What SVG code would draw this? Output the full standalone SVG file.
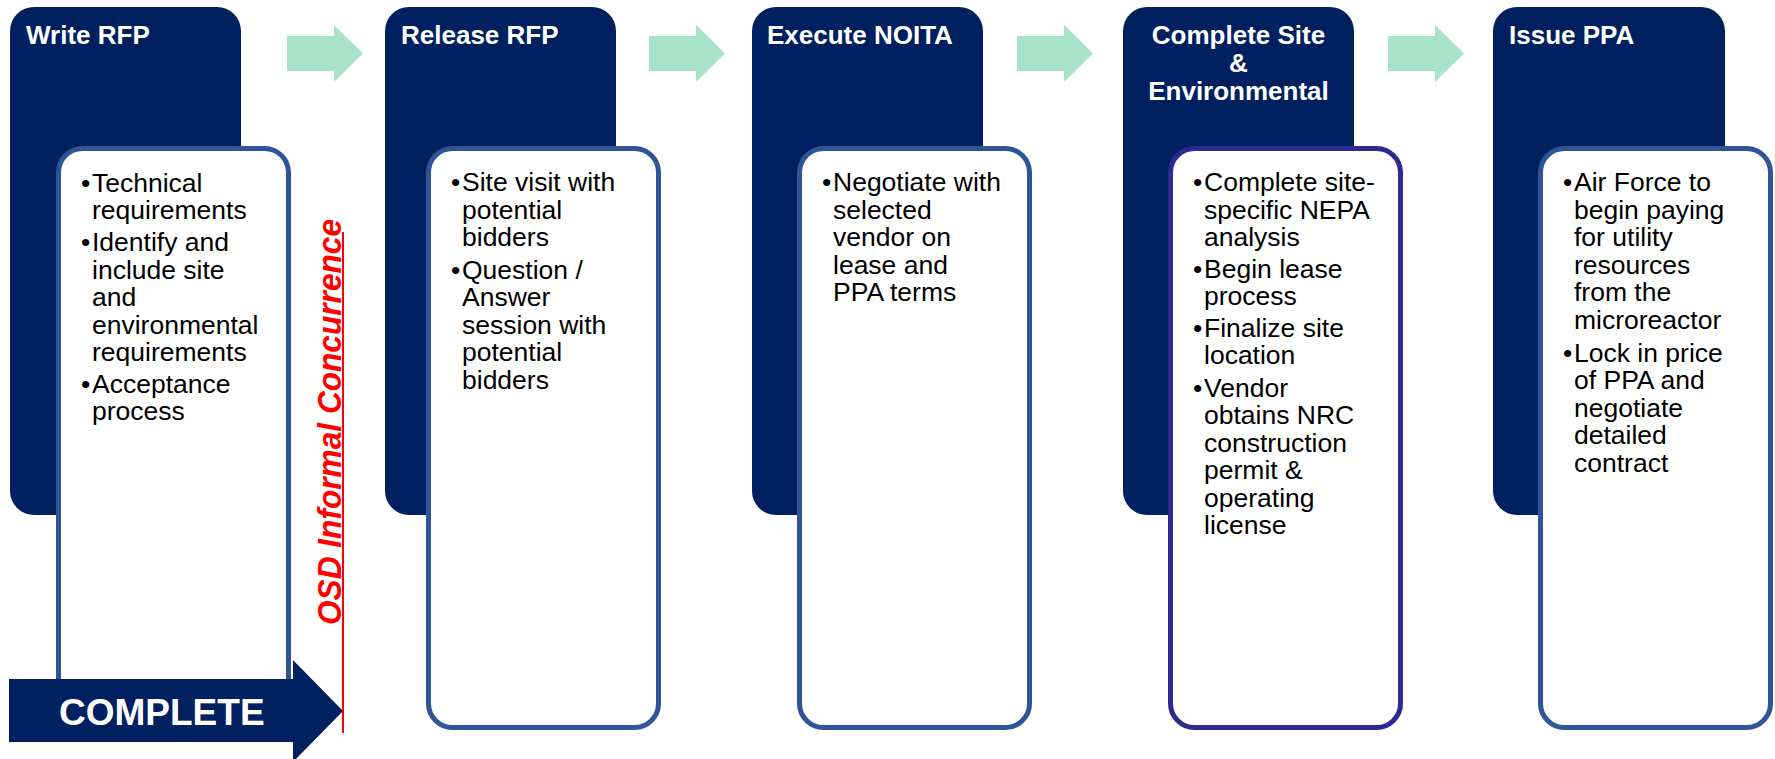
<svg xmlns="http://www.w3.org/2000/svg" width="1775" height="759" viewBox="0 0 1775 759">
<style>
.dark{fill:#002060;}
.card{fill:#FFFFFF;stroke:#2F5597;stroke-width:5;}
.card2{fill:#FFFFFF;stroke:#2B2A8E;stroke-width:5;}
.title{font-family:"Liberation Sans",Arial,sans-serif;font-weight:bold;font-size:26px;fill:#FFFFFF;}
.body{font-family:"Liberation Sans",Arial,sans-serif;font-size:26.5px;fill:#000000;}
.step{fill:#A9E2CA;}
.osd{font-family:"Liberation Sans",Arial,sans-serif;font-weight:bold;font-style:italic;font-size:33px;fill:#FF0000;}
.done{font-family:"Liberation Sans",Arial,sans-serif;font-weight:bold;font-size:37px;fill:#FFFFFF;}
</style>
<rect width="1775" height="759" fill="#FFFFFF"/>
<g id="connectors">
<polygon class="step" points="287,36 334,36 334,25 363,53.5 334,82 334,71 287,71"/>
<polygon class="step" points="649,36 696,36 696,25 725,53.5 696,82 696,71 649,71"/>
<polygon class="step" points="1017,36 1064,36 1064,25 1093,53.5 1064,82 1064,71 1017,71"/>
<polygon class="step" points="1388,36 1435,36 1435,25 1464,53.5 1435,82 1435,71 1388,71"/>
</g>
<g id="node-write-rfp">
<rect class="dark" x="10" y="7" width="231" height="508" rx="24"/>
<text class="title" x="26" y="44">Write RFP</text>
<rect class="card" x="58.5" y="148.5" width="230" height="579" rx="24"/>
<g class="body">
<text x="81" y="192">•</text>
<text x="92" y="192">Technical</text>
<text x="92" y="219">requirements</text>
<text x="81" y="251">•</text>
<text x="92" y="251">Identify and</text>
<text x="92" y="278.5">include site</text>
<text x="92" y="306">and</text>
<text x="92" y="333.5">environmental</text>
<text x="92" y="361">requirements</text>
<text x="81" y="393">•</text>
<text x="92" y="393">Acceptance</text>
<text x="92" y="420">process</text>
</g>
</g>
<g id="node-release-rfp">
<rect class="dark" x="385" y="7" width="231" height="508" rx="24"/>
<text class="title" x="401" y="44">Release RFP</text>
<rect class="card" x="428.5" y="148.5" width="230" height="579" rx="24"/>
<g class="body">
<text x="451" y="191">•</text>
<text x="462" y="191">Site visit with</text>
<text x="462" y="218.5">potential</text>
<text x="462" y="246">bidders</text>
<text x="451" y="278.5">•</text>
<text x="462" y="278.5">Question /</text>
<text x="462" y="306">Answer</text>
<text x="462" y="333.5">session with</text>
<text x="462" y="361">potential</text>
<text x="462" y="388.5">bidders</text>
</g>
</g>
<g id="node-execute-noita">
<rect class="dark" x="752" y="7" width="231" height="508" rx="24"/>
<text class="title" x="767" y="44">Execute NOITA</text>
<rect class="card" x="799.5" y="148.5" width="230" height="579" rx="24"/>
<g class="body">
<text x="822" y="191">•</text>
<text x="833" y="191">Negotiate with</text>
<text x="833" y="218.5">selected</text>
<text x="833" y="246">vendor on</text>
<text x="833" y="273.5">lease and</text>
<text x="833" y="301">PPA terms</text>
</g>
</g>
<g id="node-complete-site">
<rect class="dark" x="1123" y="7" width="231" height="508" rx="24"/>
<text class="title" x="1238.5" y="44" text-anchor="middle">Complete Site</text>
<text class="title" x="1238.5" y="72" text-anchor="middle">&amp;</text>
<text class="title" x="1238.5" y="100" text-anchor="middle">Environmental</text>
<rect class="card2" x="1170.5" y="148.5" width="230" height="579" rx="24"/>
<g class="body">
<text x="1193" y="191">•</text>
<text x="1204" y="191">Complete site-</text>
<text x="1204" y="218.5">specific NEPA</text>
<text x="1204" y="246">analysis</text>
<text x="1193" y="277.5">•</text>
<text x="1204" y="277.5">Begin lease</text>
<text x="1204" y="305">process</text>
<text x="1193" y="336.5">•</text>
<text x="1204" y="336.5">Finalize site</text>
<text x="1204" y="364">location</text>
<text x="1193" y="396.5">•</text>
<text x="1204" y="396.5">Vendor</text>
<text x="1204" y="424">obtains NRC</text>
<text x="1204" y="451.5">construction</text>
<text x="1204" y="479">permit &amp;</text>
<text x="1204" y="506.5">operating</text>
<text x="1204" y="534">license</text>
</g>
</g>
<g id="node-issue-ppa">
<rect class="dark" x="1493" y="7" width="232" height="508" rx="24"/>
<text class="title" x="1509" y="44">Issue PPA</text>
<rect class="card" x="1540.5" y="148.5" width="230" height="579" rx="24"/>
<g class="body">
<text x="1563" y="191">•</text>
<text x="1574" y="191">Air Force to</text>
<text x="1574" y="218.5">begin paying</text>
<text x="1574" y="246">for utility</text>
<text x="1574" y="273.5">resources</text>
<text x="1574" y="301">from the</text>
<text x="1574" y="328.5">microreactor</text>
<text x="1563" y="361.5">•</text>
<text x="1574" y="361.5">Lock in price</text>
<text x="1574" y="389">of PPA and</text>
<text x="1574" y="416.5">negotiate</text>
<text x="1574" y="444">detailed</text>
<text x="1574" y="471.5">contract</text>
</g>
</g>
<g id="osd-concurrence">
<line x1="343" y1="232" x2="343" y2="733" stroke="#FF0000" stroke-width="2"/>
<text class="osd" transform="translate(341,625) rotate(-90)" x="0" y="0" textLength="406" lengthAdjust="spacingAndGlyphs">OSD Informal Concurrence</text>
</g>
<g id="complete-arrow">
<polygon class="dark" points="9,679 293,679 293,660 343,711 293,762 293,742 9,742"/>
<text class="done" x="59" y="725">COMPLETE</text>
</g>
</svg>
